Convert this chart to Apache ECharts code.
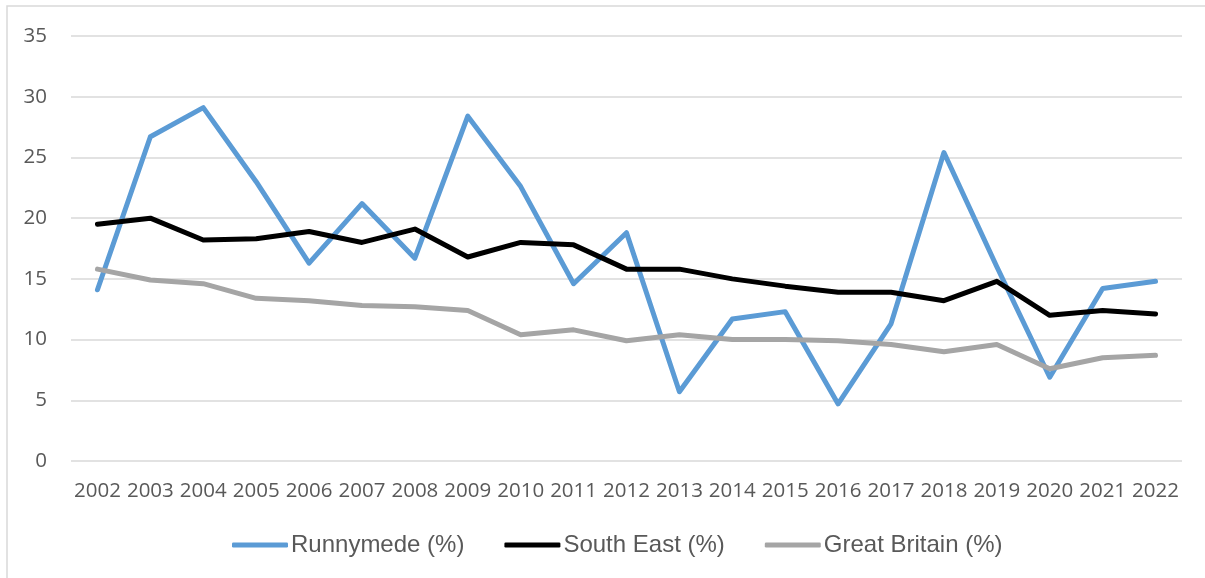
<!DOCTYPE html>
<html>
<head>
<meta charset="utf-8">
<script src="https://cdn.jsdelivr.net/npm/echarts@6/dist/echarts.min.js"></script>
<style>
  html, body { margin: 0; padding: 0; background: #fff; }
  #main { width: 1205px; height: 578px; }
</style>
</head>
<body>
<div id="main"></div>
<script>
const years = ['2002', '2003', '2004', '2005', '2006', '2007', '2008', '2009', '2010', '2011', '2012',
  '2013', '2014', '2015', '2016', '2017', '2018', '2019', '2020', '2021', '2022'];
const runnymede = [14.1, 26.7, 29.1, 23.0, 16.3, 21.2, 16.7, 28.4, 22.6, 14.6, 18.8,
  5.7, 11.7, 12.3, 4.7, 11.3, 25.4, 16.0, 6.9, 14.2, 14.8];
const southEast = [19.5, 20.0, 18.2, 18.3, 18.9, 18.0, 19.1, 16.8, 18.0, 17.8, 15.8,
  15.8, 15.0, 14.4, 13.9, 13.9, 13.2, 14.8, 12.0, 12.4, 12.1];
const greatBritain = [15.8, 14.9, 14.6, 13.4, 13.2, 12.8, 12.7, 12.4, 10.4, 10.8, 9.9,
  10.4, 10.0, 10.0, 9.9, 9.6, 9.0, 9.6, 7.6, 8.5, 8.7];

const chart = echarts.init(document.getElementById('main'));

function lineSeries(name, data, color) {
  return {
    name: name,
    type: 'line',
    data: data,
    color: color,
    symbol: 'none',
    lineStyle: { width: 5, color: color, cap: 'round', join: 'round' }
  };
}

const option = {
  animation: false,
  backgroundColor: '#fff',
  graphic: [{
    type: 'rect',
    shape: { x: 7, y: 6, width: 1220, height: 600 },
    style: { fill: 'none', stroke: '#d9d9d9', lineWidth: 1.5 },
    silent: true
  }],
  grid: { left: 71, right: 23, top: 36, bottom: 117 },
  legend: {
    bottom: 16,
    left: 227,
    itemWidth: 56,
    itemHeight: 5,
    itemGap: 40,
    icon: 'roundRect',
    textStyle: { fontFamily: 'Liberation Sans', fontSize: 24, color: '#595959', padding: [0, 0, 0, -2] },
    data: ['Runnymede (%)', 'South East (%)', 'Great Britain (%)']
  },
  xAxis: {
    type: 'category',
    data: years,
    boundaryGap: true,
    axisLine: { show: false },
    axisTick: { show: false },
    axisLabel: { fontFamily: 'Open Sans', fontSize: 20.5, color: '#595959', margin: 20, interval: 0 }
  },
  yAxis: {
    type: 'value',
    min: 0,
    max: 35,
    interval: 5,
    axisLine: { show: false },
    axisTick: { show: false },
    axisLabel: { fontFamily: 'Open Sans', fontSize: 20.5, color: '#595959', margin: 24 },
    splitLine: { lineStyle: { color: '#d9d9d9', width: 1.5 } }
  },
  series: [
    lineSeries('Runnymede (%)', runnymede, '#5b9bd5'),
    lineSeries('South East (%)', southEast, '#000000'),
    lineSeries('Great Britain (%)', greatBritain, '#a5a5a5')
  ]
};
chart.setOption(option);
</script>
</body>
</html>
